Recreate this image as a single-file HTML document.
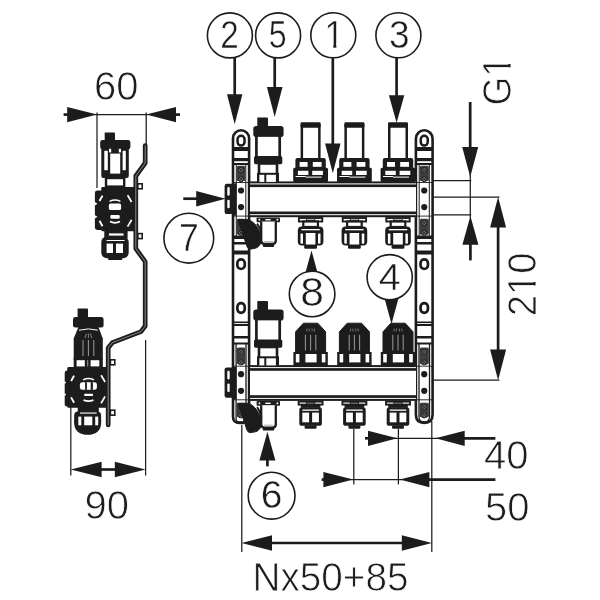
<!DOCTYPE html>
<html lang="en">
<head>
<meta charset="utf-8">
<title>Manifold dimensional drawing</title>
<style>
html,body{margin:0;padding:0;background:#fff;}
body{width:600px;height:600px;overflow:hidden;}
svg{display:block;}
svg{will-change:transform;}
text{font-family:"Liberation Sans",sans-serif;fill:#1d1d1b;stroke:#fff;stroke-width:0.8px;}
</style>
</head>
<body>
<svg width="600" height="600" viewBox="0 0 600 600">
<defs><filter id="soft" x="0" y="0" width="600" height="600" filterUnits="userSpaceOnUse"><feGaussianBlur stdDeviation="0.32"/></filter></defs>
<rect x="0" y="0" width="600" height="600" fill="#ffffff"/>
<g filter="url(#soft)">
<line x1="97" y1="112.4" x2="97" y2="188" stroke="#1d1d1b" stroke-width="1.25" stroke-linecap="butt"/>
<line x1="146.2" y1="112.4" x2="146.2" y2="146" stroke="#1d1d1b" stroke-width="1.25" stroke-linecap="butt"/>
<line x1="95" y1="114.6" x2="148" y2="114.6" stroke="#1d1d1b" stroke-width="1.25" stroke-linecap="butt"/>
<polygon points="97.1,114.6 67.19999999999999,107.0 67.19999999999999,122.19999999999999" fill="#1d1d1b" stroke="none" stroke-width="0" stroke-linejoin="miter"/>
<line x1="63.6" y1="114.6" x2="68" y2="114.6" stroke="#1d1d1b" stroke-width="2.7" stroke-linecap="butt"/>
<polygon points="146.1,114.6 176.0,107.0 176.0,122.19999999999999" fill="#1d1d1b" stroke="none" stroke-width="0" stroke-linejoin="miter"/>
<line x1="175" y1="114.6" x2="180" y2="114.6" stroke="#1d1d1b" stroke-width="2.7" stroke-linecap="butt"/>
<text x="116.3" y="99.7" font-size="40" text-anchor="middle">60</text>
<line x1="70.8" y1="405" x2="70.8" y2="475.5" stroke="#1d1d1b" stroke-width="1.25" stroke-linecap="butt"/>
<line x1="145.6" y1="340" x2="145.6" y2="475.5" stroke="#1d1d1b" stroke-width="1.25" stroke-linecap="butt"/>
<line x1="100" y1="469.5" x2="117" y2="469.5" stroke="#1d1d1b" stroke-width="2.7" stroke-linecap="butt"/>
<polygon points="70.7,469.5 101.6,461.8 101.6,477.2" fill="#1d1d1b" stroke="none" stroke-width="0" stroke-linejoin="miter"/>
<polygon points="145.5,469.5 114.79999999999998,461.8 114.79999999999998,477.2" fill="#1d1d1b" stroke="none" stroke-width="0" stroke-linejoin="miter"/>
<text x="106.8" y="519.1" font-size="40" text-anchor="middle">90</text>
<line x1="433.6" y1="180.6" x2="471.2" y2="180.6" stroke="#1d1d1b" stroke-width="1.25" stroke-linecap="butt"/>
<line x1="433.6" y1="197.2" x2="499.4" y2="197.2" stroke="#1d1d1b" stroke-width="1.25" stroke-linecap="butt"/>
<line x1="433.6" y1="214.8" x2="471.2" y2="214.8" stroke="#1d1d1b" stroke-width="1.25" stroke-linecap="butt"/>
<line x1="470.3" y1="174" x2="470.3" y2="218" stroke="#1d1d1b" stroke-width="1.25" stroke-linecap="butt"/>
<line x1="470.2" y1="102" x2="470.2" y2="149" stroke="#1d1d1b" stroke-width="2.7" stroke-linecap="butt"/>
<polygon points="470.2,176.9 462.2,147.0 478.2,147.0" fill="#1d1d1b" stroke="none" stroke-width="0" stroke-linejoin="miter"/>
<polygon points="470.4,216.0 462.4,244.70000000000002 478.4,244.70000000000002" fill="#1d1d1b" stroke="none" stroke-width="0" stroke-linejoin="miter"/>
<line x1="470.4" y1="243" x2="470.4" y2="260.4" stroke="#1d1d1b" stroke-width="2.7" stroke-linecap="butt"/>
<text x="511" y="105.5" font-size="40" text-anchor="start" transform="rotate(-90 511 105.5)" textLength="49.5" lengthAdjust="spacingAndGlyphs">G1</text>
<g transform="rotate(-90 511 105.5)"><rect x="542.31" y="101.81" width="6.88" height="4.89" fill="#fff"/><rect x="552.47" y="101.81" width="6.69" height="4.89" fill="#fff"/></g>
<line x1="433.6" y1="380.2" x2="499.4" y2="380.2" stroke="#1d1d1b" stroke-width="1.25" stroke-linecap="butt"/>
<line x1="498.1" y1="224" x2="498.1" y2="353" stroke="#1d1d1b" stroke-width="2.7" stroke-linecap="butt"/>
<polygon points="498.1,196.89999999999998 490.1,227.6 506.1,227.6" fill="#1d1d1b" stroke="none" stroke-width="0" stroke-linejoin="miter"/>
<polygon points="498.1,380.3 490.1,349.6 506.1,349.6" fill="#1d1d1b" stroke="none" stroke-width="0" stroke-linejoin="miter"/>
<text x="536" y="316.2" font-size="40" text-anchor="start" transform="rotate(-90 536 316.2)" textLength="63.7" lengthAdjust="spacingAndGlyphs">210</text>
<g transform="rotate(-90 536 316.2)"><rect x="559.76" y="312.51" width="7.08" height="4.89" fill="#fff"/><rect x="570.21" y="312.51" width="6.88" height="4.89" fill="#fff"/></g>
<line x1="353.8" y1="428.8" x2="353.8" y2="484.4" stroke="#1d1d1b" stroke-width="1.25" stroke-linecap="butt"/>
<line x1="398.4" y1="428.8" x2="398.4" y2="484.4" stroke="#1d1d1b" stroke-width="1.25" stroke-linecap="butt"/>
<line x1="431.8" y1="421" x2="431.8" y2="552" stroke="#1d1d1b" stroke-width="1.25" stroke-linecap="butt"/>
<line x1="394" y1="438.3" x2="440" y2="438.3" stroke="#1d1d1b" stroke-width="1.25" stroke-linecap="butt"/>
<polygon points="397.3,438.3 368,430.7 368,445.90000000000003" fill="#1d1d1b" stroke="none" stroke-width="0" stroke-linejoin="miter"/>
<line x1="365" y1="438.3" x2="369" y2="438.3" stroke="#1d1d1b" stroke-width="2.7" stroke-linecap="butt"/>
<polygon points="435.4,438.3 464.7,430.7 464.7,445.90000000000003" fill="#1d1d1b" stroke="none" stroke-width="0" stroke-linejoin="miter"/>
<line x1="463" y1="438.3" x2="495.4" y2="438.3" stroke="#1d1d1b" stroke-width="2.7" stroke-linecap="butt"/>
<line x1="350" y1="479.6" x2="403" y2="479.6" stroke="#1d1d1b" stroke-width="1.25" stroke-linecap="butt"/>
<polygon points="353.3,479.6 323.4,472.0 323.4,487.20000000000005" fill="#1d1d1b" stroke="none" stroke-width="0" stroke-linejoin="miter"/>
<line x1="321.6" y1="479.6" x2="325" y2="479.6" stroke="#1d1d1b" stroke-width="2.7" stroke-linecap="butt"/>
<polygon points="399.7,479.6 429.4,472.0 429.4,487.20000000000005" fill="#1d1d1b" stroke="none" stroke-width="0" stroke-linejoin="miter"/>
<line x1="428" y1="479.6" x2="495.4" y2="479.6" stroke="#1d1d1b" stroke-width="2.7" stroke-linecap="butt"/>
<text x="506.2" y="469.4" font-size="40" text-anchor="middle">40</text>
<text x="507.2" y="520.8" font-size="40" text-anchor="middle">50</text>
<line x1="241.8" y1="425" x2="241.8" y2="552" stroke="#1d1d1b" stroke-width="1.25" stroke-linecap="butt"/>
<line x1="270" y1="543" x2="404" y2="543" stroke="#1d1d1b" stroke-width="2.7" stroke-linecap="butt"/>
<polygon points="241.5,543 272.0,535.2 272.0,550.8" fill="#1d1d1b" stroke="none" stroke-width="0" stroke-linejoin="miter"/>
<polygon points="431.90000000000003,543 401.8,535.2 401.8,550.8" fill="#1d1d1b" stroke="none" stroke-width="0" stroke-linejoin="miter"/>
<text x="330.5" y="590.5" font-size="40" text-anchor="middle" textLength="156" lengthAdjust="spacingAndGlyphs">Nx50+85</text>
<path d="M233.0,138.35000000000002 A8.050000000000008,8.050000000000008 0 0 1 249.1,138.35000000000002 L249.1,416.4 Q249.1,422.9 242.6,422.9 L239.5,422.9 Q233.0,422.9 233.0,416.4 Z" fill="#fff" stroke="#1d1d1b" stroke-width="2.6" stroke-linejoin="round" stroke-linecap="butt"/>
<rect x="237.55" y="135.85" width="7.0" height="9.7" rx="3.5" fill="#fff" stroke="#1d1d1b" stroke-width="2.5"/>
<rect x="237.35000000000002" y="259.4" width="7.4" height="9.6" rx="3.7" fill="#fff" stroke="#1d1d1b" stroke-width="2.7"/>
<rect x="237.35000000000002" y="303.2" width="7.4" height="9.6" rx="3.7" fill="#fff" stroke="#1d1d1b" stroke-width="2.7"/>
<rect x="232.7" y="147.0" width="16.7" height="4.0" fill="#1d1d1b" stroke="none" stroke-width="0" rx="0"/>
<rect x="232.7" y="158.0" width="16.7" height="3.2" fill="#1d1d1b" stroke="none" stroke-width="0" rx="0"/>
<rect x="232.7" y="163.0" width="16.7" height="2.0" fill="#1d1d1b" stroke="none" stroke-width="0" rx="0"/>
<rect x="232.7" y="235.5" width="16.7" height="3.5" fill="#1d1d1b" stroke="none" stroke-width="0" rx="0"/>
<rect x="232.7" y="242.0" width="16.7" height="2.5" fill="#1d1d1b" stroke="none" stroke-width="0" rx="0"/>
<rect x="232.7" y="250.5" width="16.7" height="4.0" fill="#1d1d1b" stroke="none" stroke-width="0" rx="0"/>
<line x1="236.29999999999998" y1="164.3" x2="236.29999999999998" y2="236.3" stroke="#1d1d1b" stroke-width="1.0" stroke-linecap="butt"/>
<line x1="245.8" y1="164.3" x2="245.8" y2="236.3" stroke="#1d1d1b" stroke-width="1.0" stroke-linecap="butt"/>
<rect x="236.7" y="165.70000000000002" width="8.7" height="15.3" fill="#3c3c3a" stroke="none" stroke-width="0" rx="1.6"/>
<circle cx="241.05" cy="170.10000000000002" r="2.6" fill="#6e6e6c" stroke="#1d1d1b" stroke-width="0.9"/>
<line x1="239.35000000000002" y1="168.40000000000003" x2="242.75" y2="171.80000000000004" stroke="#1d1d1b" stroke-width="0.8" stroke-linecap="butt"/>
<line x1="239.35000000000002" y1="171.80000000000004" x2="242.75" y2="168.40000000000003" stroke="#1d1d1b" stroke-width="0.8" stroke-linecap="butt"/>
<circle cx="241.05" cy="179.20000000000002" r="2.6" fill="#6e6e6c" stroke="#1d1d1b" stroke-width="0.9"/>
<line x1="239.35000000000002" y1="177.50000000000003" x2="242.75" y2="180.90000000000003" stroke="#1d1d1b" stroke-width="0.8" stroke-linecap="butt"/>
<line x1="239.35000000000002" y1="180.90000000000003" x2="242.75" y2="177.50000000000003" stroke="#1d1d1b" stroke-width="0.8" stroke-linecap="butt"/>
<rect x="236.7" y="218.8" width="8.7" height="15.9" fill="#3c3c3a" stroke="none" stroke-width="0" rx="1.6"/>
<circle cx="241.05" cy="223.20000000000002" r="2.6" fill="#6e6e6c" stroke="#1d1d1b" stroke-width="0.9"/>
<line x1="239.35000000000002" y1="221.50000000000003" x2="242.75" y2="224.90000000000003" stroke="#1d1d1b" stroke-width="0.8" stroke-linecap="butt"/>
<line x1="239.35000000000002" y1="224.90000000000003" x2="242.75" y2="221.50000000000003" stroke="#1d1d1b" stroke-width="0.8" stroke-linecap="butt"/>
<circle cx="241.05" cy="232.90000000000003" r="2.6" fill="#6e6e6c" stroke="#1d1d1b" stroke-width="0.9"/>
<line x1="239.35000000000002" y1="231.20000000000005" x2="242.75" y2="234.60000000000005" stroke="#1d1d1b" stroke-width="0.8" stroke-linecap="butt"/>
<line x1="239.35000000000002" y1="234.60000000000005" x2="242.75" y2="231.20000000000005" stroke="#1d1d1b" stroke-width="0.8" stroke-linecap="butt"/>
<rect x="232.7" y="321.5" width="16.7" height="1.6" fill="#1d1d1b" stroke="none" stroke-width="0" rx="0"/>
<rect x="232.7" y="324.0" width="16.7" height="2.0" fill="#1d1d1b" stroke="none" stroke-width="0" rx="0"/>
<rect x="232.7" y="336.0" width="16.7" height="2.5" fill="#1d1d1b" stroke="none" stroke-width="0" rx="0"/>
<rect x="232.7" y="342.5" width="16.7" height="2.0" fill="#1d1d1b" stroke="none" stroke-width="0" rx="0"/>
<path d="M236.1,344 L236.1,418.7 Q236.1,422.0 239.4,422.0 L242.7,422.0 Q246.0,422.0 246.0,418.7 L246.0,344" fill="none" stroke="#1d1d1b" stroke-width="1.3" stroke-linejoin="round" stroke-linecap="butt"/>
<rect x="236.7" y="347.5" width="8.7" height="16.7" fill="#3c3c3a" stroke="none" stroke-width="0" rx="1.6"/>
<circle cx="241.05" cy="351.90000000000003" r="2.6" fill="#6e6e6c" stroke="#1d1d1b" stroke-width="0.9"/>
<line x1="239.35000000000002" y1="350.2" x2="242.75" y2="353.6" stroke="#1d1d1b" stroke-width="0.8" stroke-linecap="butt"/>
<line x1="239.35000000000002" y1="353.6" x2="242.75" y2="350.2" stroke="#1d1d1b" stroke-width="0.8" stroke-linecap="butt"/>
<circle cx="241.05" cy="362.40000000000003" r="2.6" fill="#6e6e6c" stroke="#1d1d1b" stroke-width="0.9"/>
<line x1="239.35000000000002" y1="360.7" x2="242.75" y2="364.1" stroke="#1d1d1b" stroke-width="0.8" stroke-linecap="butt"/>
<line x1="239.35000000000002" y1="364.1" x2="242.75" y2="360.7" stroke="#1d1d1b" stroke-width="0.8" stroke-linecap="butt"/>
<rect x="236.7" y="402.8" width="8.7" height="14.4" fill="#3c3c3a" stroke="none" stroke-width="0" rx="1.6"/>
<circle cx="241.05" cy="407.20000000000005" r="2.6" fill="#6e6e6c" stroke="#1d1d1b" stroke-width="0.9"/>
<line x1="239.35000000000002" y1="405.5" x2="242.75" y2="408.90000000000003" stroke="#1d1d1b" stroke-width="0.8" stroke-linecap="butt"/>
<line x1="239.35000000000002" y1="408.90000000000003" x2="242.75" y2="405.5" stroke="#1d1d1b" stroke-width="0.8" stroke-linecap="butt"/>
<circle cx="241.05" cy="415.40000000000003" r="2.6" fill="#6e6e6c" stroke="#1d1d1b" stroke-width="0.9"/>
<line x1="239.35000000000002" y1="413.7" x2="242.75" y2="417.1" stroke="#1d1d1b" stroke-width="0.8" stroke-linecap="butt"/>
<line x1="239.35000000000002" y1="417.1" x2="242.75" y2="413.7" stroke="#1d1d1b" stroke-width="0.8" stroke-linecap="butt"/>
<line x1="233.7" y1="182.5" x2="248.4" y2="182.5" stroke="#1d1d1b" stroke-width="0.9" stroke-linecap="butt"/>
<line x1="233.7" y1="216.10000000000002" x2="248.4" y2="216.10000000000002" stroke="#1d1d1b" stroke-width="0.9" stroke-linecap="butt"/>
<circle cx="241.05" cy="190.5" r="3.1" fill="#1d1d1b" stroke="none" stroke-width="0"/>
<circle cx="241.05" cy="207.10000000000002" r="3.1" fill="#1d1d1b" stroke="none" stroke-width="0"/>
<line x1="233.7" y1="366.2" x2="248.4" y2="366.2" stroke="#1d1d1b" stroke-width="0.9" stroke-linecap="butt"/>
<line x1="233.7" y1="399.8" x2="248.4" y2="399.8" stroke="#1d1d1b" stroke-width="0.9" stroke-linecap="butt"/>
<circle cx="241.05" cy="374.2" r="3.1" fill="#1d1d1b" stroke="none" stroke-width="0"/>
<circle cx="241.05" cy="390.8" r="3.1" fill="#1d1d1b" stroke="none" stroke-width="0"/>
<path d="M415.90000000000003,138.64999999999998 A8.349999999999977,8.349999999999977 0 0 1 432.59999999999997,138.64999999999998 L432.59999999999997,414.5 Q432.59999999999997,422.9 424.2,422.9 L424.3,422.9 Q415.90000000000003,422.9 415.90000000000003,414.5 Z" fill="#fff" stroke="#1d1d1b" stroke-width="2.6" stroke-linejoin="round" stroke-linecap="butt"/>
<rect x="420.75" y="135.85" width="7.0" height="9.7" rx="3.5" fill="#fff" stroke="#1d1d1b" stroke-width="2.5"/>
<rect x="420.55" y="259.4" width="7.4" height="9.6" rx="3.7" fill="#fff" stroke="#1d1d1b" stroke-width="2.7"/>
<rect x="420.55" y="303.2" width="7.4" height="9.6" rx="3.7" fill="#fff" stroke="#1d1d1b" stroke-width="2.7"/>
<rect x="415.6" y="147.0" width="17.3" height="4.0" fill="#1d1d1b" stroke="none" stroke-width="0" rx="0"/>
<rect x="415.6" y="158.0" width="17.3" height="3.2" fill="#1d1d1b" stroke="none" stroke-width="0" rx="0"/>
<rect x="415.6" y="163.0" width="17.3" height="2.0" fill="#1d1d1b" stroke="none" stroke-width="0" rx="0"/>
<rect x="415.6" y="235.5" width="17.3" height="3.5" fill="#1d1d1b" stroke="none" stroke-width="0" rx="0"/>
<rect x="415.6" y="242.0" width="17.3" height="2.5" fill="#1d1d1b" stroke="none" stroke-width="0" rx="0"/>
<rect x="415.6" y="250.5" width="17.3" height="4.0" fill="#1d1d1b" stroke="none" stroke-width="0" rx="0"/>
<line x1="419.20000000000005" y1="164.3" x2="419.20000000000005" y2="236.3" stroke="#1d1d1b" stroke-width="1.0" stroke-linecap="butt"/>
<line x1="429.29999999999995" y1="164.3" x2="429.29999999999995" y2="236.3" stroke="#1d1d1b" stroke-width="1.0" stroke-linecap="butt"/>
<rect x="419.6" y="165.70000000000002" width="9.3" height="15.3" fill="#3c3c3a" stroke="none" stroke-width="0" rx="1.6"/>
<circle cx="424.25" cy="170.10000000000002" r="2.6" fill="#6e6e6c" stroke="#1d1d1b" stroke-width="0.9"/>
<line x1="422.55" y1="168.40000000000003" x2="425.95" y2="171.80000000000004" stroke="#1d1d1b" stroke-width="0.8" stroke-linecap="butt"/>
<line x1="422.55" y1="171.80000000000004" x2="425.95" y2="168.40000000000003" stroke="#1d1d1b" stroke-width="0.8" stroke-linecap="butt"/>
<circle cx="424.25" cy="179.20000000000002" r="2.6" fill="#6e6e6c" stroke="#1d1d1b" stroke-width="0.9"/>
<line x1="422.55" y1="177.50000000000003" x2="425.95" y2="180.90000000000003" stroke="#1d1d1b" stroke-width="0.8" stroke-linecap="butt"/>
<line x1="422.55" y1="180.90000000000003" x2="425.95" y2="177.50000000000003" stroke="#1d1d1b" stroke-width="0.8" stroke-linecap="butt"/>
<rect x="419.6" y="218.8" width="9.3" height="15.9" fill="#3c3c3a" stroke="none" stroke-width="0" rx="1.6"/>
<circle cx="424.25" cy="223.20000000000002" r="2.6" fill="#6e6e6c" stroke="#1d1d1b" stroke-width="0.9"/>
<line x1="422.55" y1="221.50000000000003" x2="425.95" y2="224.90000000000003" stroke="#1d1d1b" stroke-width="0.8" stroke-linecap="butt"/>
<line x1="422.55" y1="224.90000000000003" x2="425.95" y2="221.50000000000003" stroke="#1d1d1b" stroke-width="0.8" stroke-linecap="butt"/>
<circle cx="424.25" cy="232.90000000000003" r="2.6" fill="#6e6e6c" stroke="#1d1d1b" stroke-width="0.9"/>
<line x1="422.55" y1="231.20000000000005" x2="425.95" y2="234.60000000000005" stroke="#1d1d1b" stroke-width="0.8" stroke-linecap="butt"/>
<line x1="422.55" y1="234.60000000000005" x2="425.95" y2="231.20000000000005" stroke="#1d1d1b" stroke-width="0.8" stroke-linecap="butt"/>
<rect x="415.6" y="321.5" width="17.3" height="1.6" fill="#1d1d1b" stroke="none" stroke-width="0" rx="0"/>
<rect x="415.6" y="324.0" width="17.3" height="2.0" fill="#1d1d1b" stroke="none" stroke-width="0" rx="0"/>
<rect x="415.6" y="336.0" width="17.3" height="2.5" fill="#1d1d1b" stroke="none" stroke-width="0" rx="0"/>
<rect x="415.6" y="342.5" width="17.3" height="2.0" fill="#1d1d1b" stroke="none" stroke-width="0" rx="0"/>
<path d="M419.0,344 L419.0,416.8 Q419.0,422.0 424.2,422.0 L424.3,422.0 Q429.5,422.0 429.5,416.8 L429.5,344" fill="none" stroke="#1d1d1b" stroke-width="1.3" stroke-linejoin="round" stroke-linecap="butt"/>
<rect x="419.6" y="347.5" width="9.3" height="16.7" fill="#3c3c3a" stroke="none" stroke-width="0" rx="1.6"/>
<circle cx="424.25" cy="351.90000000000003" r="2.6" fill="#6e6e6c" stroke="#1d1d1b" stroke-width="0.9"/>
<line x1="422.55" y1="350.2" x2="425.95" y2="353.6" stroke="#1d1d1b" stroke-width="0.8" stroke-linecap="butt"/>
<line x1="422.55" y1="353.6" x2="425.95" y2="350.2" stroke="#1d1d1b" stroke-width="0.8" stroke-linecap="butt"/>
<circle cx="424.25" cy="362.40000000000003" r="2.6" fill="#6e6e6c" stroke="#1d1d1b" stroke-width="0.9"/>
<line x1="422.55" y1="360.7" x2="425.95" y2="364.1" stroke="#1d1d1b" stroke-width="0.8" stroke-linecap="butt"/>
<line x1="422.55" y1="364.1" x2="425.95" y2="360.7" stroke="#1d1d1b" stroke-width="0.8" stroke-linecap="butt"/>
<rect x="419.6" y="402.8" width="9.3" height="14.4" fill="#3c3c3a" stroke="none" stroke-width="0" rx="1.6"/>
<circle cx="424.25" cy="407.20000000000005" r="2.6" fill="#6e6e6c" stroke="#1d1d1b" stroke-width="0.9"/>
<line x1="422.55" y1="405.5" x2="425.95" y2="408.90000000000003" stroke="#1d1d1b" stroke-width="0.8" stroke-linecap="butt"/>
<line x1="422.55" y1="408.90000000000003" x2="425.95" y2="405.5" stroke="#1d1d1b" stroke-width="0.8" stroke-linecap="butt"/>
<circle cx="424.25" cy="415.40000000000003" r="2.6" fill="#6e6e6c" stroke="#1d1d1b" stroke-width="0.9"/>
<line x1="422.55" y1="413.7" x2="425.95" y2="417.1" stroke="#1d1d1b" stroke-width="0.8" stroke-linecap="butt"/>
<line x1="422.55" y1="417.1" x2="425.95" y2="413.7" stroke="#1d1d1b" stroke-width="0.8" stroke-linecap="butt"/>
<line x1="416.6" y1="182.5" x2="431.9" y2="182.5" stroke="#1d1d1b" stroke-width="0.9" stroke-linecap="butt"/>
<line x1="416.6" y1="216.10000000000002" x2="431.9" y2="216.10000000000002" stroke="#1d1d1b" stroke-width="0.9" stroke-linecap="butt"/>
<circle cx="424.25" cy="190.5" r="3.1" fill="#1d1d1b" stroke="none" stroke-width="0"/>
<circle cx="424.25" cy="207.10000000000002" r="3.1" fill="#1d1d1b" stroke="none" stroke-width="0"/>
<line x1="416.6" y1="366.2" x2="431.9" y2="366.2" stroke="#1d1d1b" stroke-width="0.9" stroke-linecap="butt"/>
<line x1="416.6" y1="399.8" x2="431.9" y2="399.8" stroke="#1d1d1b" stroke-width="0.9" stroke-linecap="butt"/>
<circle cx="424.25" cy="374.2" r="3.1" fill="#1d1d1b" stroke="none" stroke-width="0"/>
<circle cx="424.25" cy="390.8" r="3.1" fill="#1d1d1b" stroke="none" stroke-width="0"/>
<rect x="250" y="181.5" width="166" height="35.6" fill="#fff" stroke="none" stroke-width="0" rx="0"/>
<rect x="250" y="181.4" width="166" height="2.0" fill="#1d1d1b" stroke="none" stroke-width="0" rx="0"/>
<rect x="250" y="184.4" width="166" height="2.7" fill="#1d1d1b" stroke="none" stroke-width="0" rx="0"/>
<rect x="250" y="211.5" width="166" height="2.7" fill="#1d1d1b" stroke="none" stroke-width="0" rx="0"/>
<rect x="250" y="215.20000000000002" width="166" height="2.0" fill="#1d1d1b" stroke="none" stroke-width="0" rx="0"/>
<rect x="250" y="365.2" width="166" height="35.6" fill="#fff" stroke="none" stroke-width="0" rx="0"/>
<rect x="250" y="365.1" width="166" height="2.0" fill="#1d1d1b" stroke="none" stroke-width="0" rx="0"/>
<rect x="250" y="368.1" width="166" height="2.7" fill="#1d1d1b" stroke="none" stroke-width="0" rx="0"/>
<rect x="250" y="395.2" width="166" height="2.7" fill="#1d1d1b" stroke="none" stroke-width="0" rx="0"/>
<rect x="250" y="398.9" width="166" height="2.0" fill="#1d1d1b" stroke="none" stroke-width="0" rx="0"/>
<rect x="224.6" y="183.70000000000002" width="9.4" height="30.4" fill="#1d1d1b" stroke="none" stroke-width="0" rx="2.2"/>
<rect x="227.3" y="187.0" width="2.4" height="8.7" fill="#fff" stroke="none" stroke-width="0" rx="1.1"/>
<rect x="227.3" y="199.70000000000002" width="2.4" height="8.6" fill="#fff" stroke="none" stroke-width="0" rx="1.1"/>
<rect x="232.4" y="183.3" width="4.0" height="32.4" fill="#1d1d1b" stroke="none" stroke-width="0" rx="0"/>
<rect x="224.6" y="367.4" width="9.4" height="30.4" fill="#1d1d1b" stroke="none" stroke-width="0" rx="2.2"/>
<rect x="227.3" y="370.7" width="2.4" height="8.7" fill="#fff" stroke="none" stroke-width="0" rx="1.1"/>
<rect x="227.3" y="383.4" width="2.4" height="8.6" fill="#fff" stroke="none" stroke-width="0" rx="1.1"/>
<rect x="232.4" y="367" width="4.0" height="32.4" fill="#1d1d1b" stroke="none" stroke-width="0" rx="0"/>
<rect x="257.3" y="117.5" width="10.7" height="10.0" fill="#1d1d1b" stroke="none" stroke-width="0" rx="0.8"/>
<rect x="253.29999999999998" y="125.9" width="30.3" height="11.1" fill="#1d1d1b" stroke="none" stroke-width="0" rx="2.8"/>
<rect x="256.4" y="135.5" width="23.3" height="24.0" fill="#fff" stroke="#1d1d1b" stroke-width="2.7" rx="0"/>
<rect x="254.0" y="156.1" width="28.3" height="8.1" fill="#1d1d1b" stroke="none" stroke-width="0" rx="1.6"/>
<rect x="259.0" y="163.5" width="18.0" height="12.0" fill="#fff" stroke="#1d1d1b" stroke-width="2.6" rx="0"/>
<rect x="257.0" y="172.8" width="22.0" height="9.1" fill="#1d1d1b" stroke="none" stroke-width="0" rx="0"/>
<rect x="259.4" y="174.8" width="4.9" height="7.1" fill="#fff" stroke="none" stroke-width="0" rx="0"/>
<rect x="266.3" y="174.8" width="9.6" height="7.1" fill="#fff" stroke="none" stroke-width="0" rx="0"/>
<rect x="257.3" y="301" width="10.7" height="10" fill="#1d1d1b" stroke="none" stroke-width="0" rx="0.8"/>
<rect x="253.29999999999998" y="309.4" width="30.3" height="11.1" fill="#1d1d1b" stroke="none" stroke-width="0" rx="2.8"/>
<rect x="256.4" y="319" width="23.3" height="24" fill="#fff" stroke="#1d1d1b" stroke-width="2.7" rx="0"/>
<rect x="254.0" y="339.6" width="28.3" height="8.1" fill="#1d1d1b" stroke="none" stroke-width="0" rx="1.6"/>
<rect x="259.0" y="347" width="18.0" height="12" fill="#fff" stroke="#1d1d1b" stroke-width="2.6" rx="0"/>
<rect x="257.0" y="356.3" width="22.0" height="9.1" fill="#1d1d1b" stroke="none" stroke-width="0" rx="0"/>
<rect x="259.4" y="358.3" width="4.9" height="7.1" fill="#fff" stroke="none" stroke-width="0" rx="0"/>
<rect x="266.3" y="358.3" width="9.6" height="7.1" fill="#fff" stroke="none" stroke-width="0" rx="0"/>
<rect x="300.6" y="122.2" width="20.0" height="38.8" fill="#fff" stroke="none" stroke-width="0" rx="0"/>
<rect x="300.6" y="122.2" width="20.0" height="5.6" fill="#1d1d1b" stroke="none" stroke-width="0" rx="1.2"/>
<rect x="300.6" y="124" width="2.5" height="37" fill="#1d1d1b" stroke="none" stroke-width="0" rx="0"/>
<rect x="318.1" y="124" width="2.5" height="37" fill="#1d1d1b" stroke="none" stroke-width="0" rx="0"/>
<rect x="295.40000000000003" y="158" width="30.4" height="12" fill="#1d1d1b" stroke="none" stroke-width="0" rx="2"/>
<rect x="293.20000000000005" y="167.8" width="34.8" height="14.2" fill="#1d1d1b" stroke="none" stroke-width="0" rx="1.5"/>
<rect x="299.6" y="162" width="8.0" height="4.8" fill="#fff" stroke="none" stroke-width="0" rx="0"/>
<rect x="312.8" y="162" width="8.8" height="4.8" fill="#fff" stroke="none" stroke-width="0" rx="0"/>
<rect x="297.90000000000003" y="170.8" width="10.5" height="4.2" fill="#fff" stroke="none" stroke-width="0" rx="0"/>
<rect x="312.20000000000005" y="170.8" width="10.7" height="4.2" fill="#fff" stroke="none" stroke-width="0" rx="0"/>
<rect x="295.6" y="176" width="10.0" height="1" fill="#fff" stroke="none" stroke-width="0" rx="0"/>
<rect x="305.6" y="176.6" width="16.0" height="1.0" fill="#fff" stroke="none" stroke-width="0" rx="0"/>
<rect x="298.90000000000003" y="218.0" width="23.4" height="3.5" fill="#fff" stroke="#1d1d1b" stroke-width="1.9" rx="0"/>
<rect x="306.40000000000003" y="218.89999999999998" width="8.4" height="1.7" fill="#fff" stroke="#1d1d1b" stroke-width="0.9" rx="0"/>
<rect x="303.3" y="221.5" width="14.6" height="5.5" fill="#fff" stroke="#1d1d1b" stroke-width="2.2" rx="0"/>
<rect x="297.8" y="226.6" width="25.6" height="19.0" fill="#1d1d1b" stroke="none" stroke-width="0" rx="4"/>
<rect x="301.40000000000003" y="229.0" width="18.4" height="1.3" fill="#fff" stroke="none" stroke-width="0" rx="0"/>
<rect x="300.5" y="233.39999999999998" width="2.5" height="10.4" fill="#fff" stroke="none" stroke-width="0" rx="0.8"/>
<rect x="305.8" y="233.0" width="9.6" height="11.7" fill="#fff" stroke="none" stroke-width="0" rx="0"/>
<rect x="318.0" y="233.39999999999998" width="2.5" height="10.4" fill="#fff" stroke="none" stroke-width="0" rx="0.8"/>
<rect x="304.20000000000005" y="244.79999999999998" width="12.8" height="3.9" fill="#1d1d1b" stroke="none" stroke-width="0" rx="1.2"/>
<polygon points="303.40000000000003,323.20000000000005 317.8,323.20000000000005 325.6,331.8 325.6,352.6 295.6,352.6 295.6,331.8" fill="#1d1d1b" stroke="#1d1d1b" stroke-width="1" stroke-linejoin="round"/>
<line x1="305.40000000000003" y1="334.8" x2="305.40000000000003" y2="350.40000000000003" stroke="#9a9a98" stroke-width="1.0" stroke-linecap="butt"/>
<line x1="310.6" y1="334.8" x2="310.6" y2="350.40000000000003" stroke="#9a9a98" stroke-width="1.0" stroke-linecap="butt"/>
<line x1="315.8" y1="334.8" x2="315.8" y2="350.40000000000003" stroke="#9a9a98" stroke-width="1.0" stroke-linecap="butt"/>
<line x1="307.0" y1="328.6" x2="306.56800000000004" y2="331.40000000000003" stroke="#8a8a88" stroke-width="0.8" stroke-linecap="butt"/>
<line x1="309.20000000000005" y1="328.6" x2="309.03200000000004" y2="331.40000000000003" stroke="#8a8a88" stroke-width="0.8" stroke-linecap="butt"/>
<line x1="312.0" y1="328.6" x2="312.168" y2="331.40000000000003" stroke="#8a8a88" stroke-width="0.8" stroke-linecap="butt"/>
<line x1="314.20000000000005" y1="328.6" x2="314.632" y2="331.40000000000003" stroke="#8a8a88" stroke-width="0.8" stroke-linecap="butt"/>
<rect x="293.40000000000003" y="352.0" width="34.4" height="14.6" fill="#1d1d1b" stroke="none" stroke-width="0" rx="0"/>
<rect x="295.8" y="354.0" width="3.6" height="8.4" fill="#fff" stroke="none" stroke-width="0" rx="0"/>
<rect x="305.40000000000003" y="354.0" width="11.2" height="8.4" fill="#fff" stroke="none" stroke-width="0" rx="0"/>
<rect x="321.8" y="354.0" width="3.6" height="8.4" fill="#fff" stroke="none" stroke-width="0" rx="0"/>
<rect x="298.6" y="401.6" width="24.0" height="3.0" fill="#fff" stroke="#1d1d1b" stroke-width="1.9" rx="0"/>
<rect x="306.40000000000003" y="402.40000000000003" width="8.4" height="1.4" fill="#fff" stroke="#1d1d1b" stroke-width="0.9" rx="0"/>
<rect x="300.8" y="404.6" width="19.6" height="3.2" fill="#1d1d1b" stroke="none" stroke-width="0" rx="0"/>
<rect x="299.3" y="407.3" width="22.6" height="18.5" fill="#1d1d1b" stroke="none" stroke-width="0" rx="2.6"/>
<rect x="302.3" y="409.5" width="16.6" height="1.3" fill="#fff" stroke="none" stroke-width="0" rx="0"/>
<rect x="302.3" y="412.6" width="6.8" height="9.7" fill="#fff" stroke="none" stroke-width="0" rx="0"/>
<rect x="312.1" y="412.6" width="6.8" height="9.7" fill="#fff" stroke="none" stroke-width="0" rx="0"/>
<rect x="304.6" y="425.2" width="12.0" height="3.6" fill="#1d1d1b" stroke="none" stroke-width="0" rx="1.2"/>
<rect x="344.4" y="122.2" width="20.0" height="38.8" fill="#fff" stroke="none" stroke-width="0" rx="0"/>
<rect x="344.4" y="122.2" width="20.0" height="5.6" fill="#1d1d1b" stroke="none" stroke-width="0" rx="1.2"/>
<rect x="344.4" y="124" width="2.5" height="37" fill="#1d1d1b" stroke="none" stroke-width="0" rx="0"/>
<rect x="361.9" y="124" width="2.5" height="37" fill="#1d1d1b" stroke="none" stroke-width="0" rx="0"/>
<rect x="339.2" y="158" width="30.4" height="12" fill="#1d1d1b" stroke="none" stroke-width="0" rx="2"/>
<rect x="337.0" y="167.8" width="34.8" height="14.2" fill="#1d1d1b" stroke="none" stroke-width="0" rx="1.5"/>
<rect x="343.4" y="162" width="8.0" height="4.8" fill="#fff" stroke="none" stroke-width="0" rx="0"/>
<rect x="356.59999999999997" y="162" width="8.8" height="4.8" fill="#fff" stroke="none" stroke-width="0" rx="0"/>
<rect x="341.7" y="170.8" width="10.5" height="4.2" fill="#fff" stroke="none" stroke-width="0" rx="0"/>
<rect x="356.0" y="170.8" width="10.7" height="4.2" fill="#fff" stroke="none" stroke-width="0" rx="0"/>
<rect x="339.4" y="176" width="10.0" height="1" fill="#fff" stroke="none" stroke-width="0" rx="0"/>
<rect x="349.4" y="176.6" width="16.0" height="1.0" fill="#fff" stroke="none" stroke-width="0" rx="0"/>
<rect x="342.7" y="218.0" width="23.4" height="3.5" fill="#fff" stroke="#1d1d1b" stroke-width="1.9" rx="0"/>
<rect x="350.2" y="218.89999999999998" width="8.4" height="1.7" fill="#fff" stroke="#1d1d1b" stroke-width="0.9" rx="0"/>
<rect x="347.09999999999997" y="221.5" width="14.6" height="5.5" fill="#fff" stroke="#1d1d1b" stroke-width="2.2" rx="0"/>
<rect x="341.59999999999997" y="226.6" width="25.6" height="19.0" fill="#1d1d1b" stroke="none" stroke-width="0" rx="4"/>
<rect x="345.2" y="229.0" width="18.4" height="1.3" fill="#fff" stroke="none" stroke-width="0" rx="0"/>
<rect x="344.29999999999995" y="233.39999999999998" width="2.5" height="10.4" fill="#fff" stroke="none" stroke-width="0" rx="0.8"/>
<rect x="349.59999999999997" y="233.0" width="9.6" height="11.7" fill="#fff" stroke="none" stroke-width="0" rx="0"/>
<rect x="361.79999999999995" y="233.39999999999998" width="2.5" height="10.4" fill="#fff" stroke="none" stroke-width="0" rx="0.8"/>
<rect x="348.0" y="244.79999999999998" width="12.8" height="3.9" fill="#1d1d1b" stroke="none" stroke-width="0" rx="1.2"/>
<polygon points="347.2,323.20000000000005 361.59999999999997,323.20000000000005 369.4,331.8 369.4,352.6 339.4,352.6 339.4,331.8" fill="#1d1d1b" stroke="#1d1d1b" stroke-width="1" stroke-linejoin="round"/>
<line x1="349.2" y1="334.8" x2="349.2" y2="350.40000000000003" stroke="#9a9a98" stroke-width="1.0" stroke-linecap="butt"/>
<line x1="354.4" y1="334.8" x2="354.4" y2="350.40000000000003" stroke="#9a9a98" stroke-width="1.0" stroke-linecap="butt"/>
<line x1="359.59999999999997" y1="334.8" x2="359.59999999999997" y2="350.40000000000003" stroke="#9a9a98" stroke-width="1.0" stroke-linecap="butt"/>
<line x1="350.79999999999995" y1="328.6" x2="350.368" y2="331.40000000000003" stroke="#8a8a88" stroke-width="0.8" stroke-linecap="butt"/>
<line x1="353.0" y1="328.6" x2="352.832" y2="331.40000000000003" stroke="#8a8a88" stroke-width="0.8" stroke-linecap="butt"/>
<line x1="355.79999999999995" y1="328.6" x2="355.96799999999996" y2="331.40000000000003" stroke="#8a8a88" stroke-width="0.8" stroke-linecap="butt"/>
<line x1="358.0" y1="328.6" x2="358.43199999999996" y2="331.40000000000003" stroke="#8a8a88" stroke-width="0.8" stroke-linecap="butt"/>
<rect x="337.2" y="352.0" width="34.4" height="14.6" fill="#1d1d1b" stroke="none" stroke-width="0" rx="0"/>
<rect x="339.59999999999997" y="354.0" width="3.6" height="8.4" fill="#fff" stroke="none" stroke-width="0" rx="0"/>
<rect x="349.2" y="354.0" width="11.2" height="8.4" fill="#fff" stroke="none" stroke-width="0" rx="0"/>
<rect x="365.59999999999997" y="354.0" width="3.6" height="8.4" fill="#fff" stroke="none" stroke-width="0" rx="0"/>
<rect x="342.4" y="401.6" width="24.0" height="3.0" fill="#fff" stroke="#1d1d1b" stroke-width="1.9" rx="0"/>
<rect x="350.2" y="402.40000000000003" width="8.4" height="1.4" fill="#fff" stroke="#1d1d1b" stroke-width="0.9" rx="0"/>
<rect x="344.59999999999997" y="404.6" width="19.6" height="3.2" fill="#1d1d1b" stroke="none" stroke-width="0" rx="0"/>
<rect x="343.09999999999997" y="407.3" width="22.6" height="18.5" fill="#1d1d1b" stroke="none" stroke-width="0" rx="2.6"/>
<rect x="346.09999999999997" y="409.5" width="16.6" height="1.3" fill="#fff" stroke="none" stroke-width="0" rx="0"/>
<rect x="346.09999999999997" y="412.6" width="6.8" height="9.7" fill="#fff" stroke="none" stroke-width="0" rx="0"/>
<rect x="355.9" y="412.6" width="6.8" height="9.7" fill="#fff" stroke="none" stroke-width="0" rx="0"/>
<rect x="348.4" y="425.2" width="12.0" height="3.6" fill="#1d1d1b" stroke="none" stroke-width="0" rx="1.2"/>
<rect x="388" y="122.2" width="20" height="38.8" fill="#fff" stroke="none" stroke-width="0" rx="0"/>
<rect x="388" y="122.2" width="20" height="5.6" fill="#1d1d1b" stroke="none" stroke-width="0" rx="1.2"/>
<rect x="388" y="124" width="2.5" height="37" fill="#1d1d1b" stroke="none" stroke-width="0" rx="0"/>
<rect x="405.5" y="124" width="2.5" height="37" fill="#1d1d1b" stroke="none" stroke-width="0" rx="0"/>
<rect x="382.8" y="158" width="30.4" height="12" fill="#1d1d1b" stroke="none" stroke-width="0" rx="2"/>
<rect x="380.6" y="167.8" width="34.8" height="14.2" fill="#1d1d1b" stroke="none" stroke-width="0" rx="1.5"/>
<rect x="387" y="162" width="8" height="4.8" fill="#fff" stroke="none" stroke-width="0" rx="0"/>
<rect x="400.2" y="162" width="8.8" height="4.8" fill="#fff" stroke="none" stroke-width="0" rx="0"/>
<rect x="385.3" y="170.8" width="10.5" height="4.2" fill="#fff" stroke="none" stroke-width="0" rx="0"/>
<rect x="399.6" y="170.8" width="10.7" height="4.2" fill="#fff" stroke="none" stroke-width="0" rx="0"/>
<rect x="383" y="176" width="10" height="1" fill="#fff" stroke="none" stroke-width="0" rx="0"/>
<rect x="393" y="176.6" width="16" height="1.0" fill="#fff" stroke="none" stroke-width="0" rx="0"/>
<rect x="386.3" y="218.0" width="23.4" height="3.5" fill="#fff" stroke="#1d1d1b" stroke-width="1.9" rx="0"/>
<rect x="393.8" y="218.89999999999998" width="8.4" height="1.7" fill="#fff" stroke="#1d1d1b" stroke-width="0.9" rx="0"/>
<rect x="390.7" y="221.5" width="14.6" height="5.5" fill="#fff" stroke="#1d1d1b" stroke-width="2.2" rx="0"/>
<rect x="385.2" y="226.6" width="25.6" height="19.0" fill="#1d1d1b" stroke="none" stroke-width="0" rx="4"/>
<rect x="388.8" y="229.0" width="18.4" height="1.3" fill="#fff" stroke="none" stroke-width="0" rx="0"/>
<rect x="387.9" y="233.39999999999998" width="2.5" height="10.4" fill="#fff" stroke="none" stroke-width="0" rx="0.8"/>
<rect x="393.2" y="233.0" width="9.6" height="11.7" fill="#fff" stroke="none" stroke-width="0" rx="0"/>
<rect x="405.4" y="233.39999999999998" width="2.5" height="10.4" fill="#fff" stroke="none" stroke-width="0" rx="0.8"/>
<rect x="391.6" y="244.79999999999998" width="12.8" height="3.9" fill="#1d1d1b" stroke="none" stroke-width="0" rx="1.2"/>
<polygon points="390.8,323.20000000000005 405.2,323.20000000000005 413,331.8 413,352.6 383,352.6 383,331.8" fill="#1d1d1b" stroke="#1d1d1b" stroke-width="1" stroke-linejoin="round"/>
<line x1="392.8" y1="334.8" x2="392.8" y2="350.40000000000003" stroke="#9a9a98" stroke-width="1.0" stroke-linecap="butt"/>
<line x1="398" y1="334.8" x2="398" y2="350.40000000000003" stroke="#9a9a98" stroke-width="1.0" stroke-linecap="butt"/>
<line x1="403.2" y1="334.8" x2="403.2" y2="350.40000000000003" stroke="#9a9a98" stroke-width="1.0" stroke-linecap="butt"/>
<line x1="394.4" y1="328.6" x2="393.968" y2="331.40000000000003" stroke="#8a8a88" stroke-width="0.8" stroke-linecap="butt"/>
<line x1="396.6" y1="328.6" x2="396.432" y2="331.40000000000003" stroke="#8a8a88" stroke-width="0.8" stroke-linecap="butt"/>
<line x1="399.4" y1="328.6" x2="399.568" y2="331.40000000000003" stroke="#8a8a88" stroke-width="0.8" stroke-linecap="butt"/>
<line x1="401.6" y1="328.6" x2="402.032" y2="331.40000000000003" stroke="#8a8a88" stroke-width="0.8" stroke-linecap="butt"/>
<rect x="380.8" y="352.0" width="34.4" height="14.6" fill="#1d1d1b" stroke="none" stroke-width="0" rx="0"/>
<rect x="383.2" y="354.0" width="3.6" height="8.4" fill="#fff" stroke="none" stroke-width="0" rx="0"/>
<rect x="392.8" y="354.0" width="11.2" height="8.4" fill="#fff" stroke="none" stroke-width="0" rx="0"/>
<rect x="409.2" y="354.0" width="3.6" height="8.4" fill="#fff" stroke="none" stroke-width="0" rx="0"/>
<rect x="386" y="401.6" width="24" height="3.0" fill="#fff" stroke="#1d1d1b" stroke-width="1.9" rx="0"/>
<rect x="393.8" y="402.40000000000003" width="8.4" height="1.4" fill="#fff" stroke="#1d1d1b" stroke-width="0.9" rx="0"/>
<rect x="388.2" y="404.6" width="19.6" height="3.2" fill="#1d1d1b" stroke="none" stroke-width="0" rx="0"/>
<rect x="386.7" y="407.3" width="22.6" height="18.5" fill="#1d1d1b" stroke="none" stroke-width="0" rx="2.6"/>
<rect x="389.7" y="409.5" width="16.6" height="1.3" fill="#fff" stroke="none" stroke-width="0" rx="0"/>
<rect x="389.7" y="412.6" width="6.8" height="9.7" fill="#fff" stroke="none" stroke-width="0" rx="0"/>
<rect x="399.5" y="412.6" width="6.8" height="9.7" fill="#fff" stroke="none" stroke-width="0" rx="0"/>
<rect x="392" y="425.2" width="12" height="3.6" fill="#1d1d1b" stroke="none" stroke-width="0" rx="1.2"/>
<rect x="256.6" y="217.39999999999998" width="23.4" height="4.8" fill="#1d1d1b" stroke="none" stroke-width="0" rx="0.8"/>
<rect x="265.40000000000003" y="219.0" width="5.2" height="1.4" fill="#fff" stroke="none" stroke-width="0" rx="0"/>
<rect x="258.6" y="218.79999999999998" width="1.6" height="1.8" fill="#fff" stroke="none" stroke-width="0" rx="0"/>
<rect x="276.6" y="218.79999999999998" width="1.6" height="1.8" fill="#fff" stroke="none" stroke-width="0" rx="0"/>
<path d="M261.20000000000005,221.6 L261.20000000000005,240.6 Q261.20000000000005,244.0 264.8,244.0 L272.20000000000005,244.0 Q275.8,244.0 275.8,240.6 L275.8,221.6" fill="#fff" stroke="#1d1d1b" stroke-width="2.3" stroke-linejoin="round" stroke-linecap="butt"/>
<rect x="262.8" y="243.6" width="11.4" height="3.4" fill="#1d1d1b" stroke="none" stroke-width="0" rx="1.2"/>
<line x1="264.0" y1="241.6" x2="273.0" y2="241.6" stroke="#999" stroke-width="0.8" stroke-linecap="butt"/>
<path d="M257.09999999999997,223.6 Q264.09999999999997,233.2 259.3,243.2" fill="none" stroke="#1d1d1b" stroke-width="2" stroke-linejoin="round" stroke-linecap="butt"/>
<path d="M238.1,219.8 L248.3,219.6 C254.2,221.6 259.9,228.8 261.3,237.8 C261.9,243.0 259.5,246.8 256.0,248.0 L251.3,249.0 C248.8,249.5 247.4,248.0 246.6,245.4 Z" fill="#1d1d1b" stroke="#1d1d1b" stroke-width="1" stroke-linejoin="round" stroke-linecap="butt"/>
<rect x="256.6" y="401.0" width="23.4" height="4.8" fill="#1d1d1b" stroke="none" stroke-width="0" rx="0.8"/>
<rect x="265.40000000000003" y="402.6" width="5.2" height="1.4" fill="#fff" stroke="none" stroke-width="0" rx="0"/>
<rect x="258.6" y="402.40000000000003" width="1.6" height="1.8" fill="#fff" stroke="none" stroke-width="0" rx="0"/>
<rect x="276.6" y="402.40000000000003" width="1.6" height="1.8" fill="#fff" stroke="none" stroke-width="0" rx="0"/>
<path d="M261.20000000000005,405.2 L261.20000000000005,424.2 Q261.20000000000005,427.6 264.8,427.6 L272.20000000000005,427.6 Q275.8,427.6 275.8,424.2 L275.8,405.2" fill="#fff" stroke="#1d1d1b" stroke-width="2.3" stroke-linejoin="round" stroke-linecap="butt"/>
<rect x="262.8" y="427.2" width="11.4" height="3.4" fill="#1d1d1b" stroke="none" stroke-width="0" rx="1.2"/>
<line x1="264.0" y1="425.2" x2="273.0" y2="425.2" stroke="#999" stroke-width="0.8" stroke-linecap="butt"/>
<path d="M257.09999999999997,407.2 Q264.09999999999997,416.8 259.3,426.8" fill="none" stroke="#1d1d1b" stroke-width="2" stroke-linejoin="round" stroke-linecap="butt"/>
<path d="M238.1,403.4 L248.3,403.2 C254.2,405.2 259.9,412.4 261.3,421.4 C261.9,426.6 259.5,430.4 256.0,431.6 L251.3,432.6 C248.8,433.1 247.4,431.6 246.6,429.0 Z" fill="#1d1d1b" stroke="#1d1d1b" stroke-width="1" stroke-linejoin="round" stroke-linecap="butt"/>
<rect x="137.8" y="183.8" width="4.4" height="5.0" fill="#fff" stroke="#1d1d1b" stroke-width="1.6" rx="0"/>
<rect x="137.8" y="233.6" width="4.4" height="5.0" fill="#fff" stroke="#1d1d1b" stroke-width="1.6" rx="0"/>
<rect x="110.4" y="359.8" width="4.4" height="5.0" fill="#fff" stroke="#1d1d1b" stroke-width="1.6" rx="0"/>
<rect x="110.4" y="410.2" width="4.4" height="5.0" fill="#fff" stroke="#1d1d1b" stroke-width="1.6" rx="0"/>
<rect x="104.7" y="132.5" width="10.3" height="8.5" fill="#1d1d1b" stroke="none" stroke-width="0" rx="0.8"/>
<rect x="100.2" y="140" width="30.2" height="9.4" fill="#1d1d1b" stroke="none" stroke-width="0" rx="2.4"/>
<rect x="101.3" y="147" width="27.5" height="31" fill="#1d1d1b" stroke="none" stroke-width="0" rx="2"/>
<rect x="104.3" y="150.8" width="3.5" height="19.4" fill="#fff" stroke="none" stroke-width="0" rx="0"/>
<rect x="110.2" y="153.6" width="10.0" height="20.0" fill="#fff" stroke="none" stroke-width="0" rx="0"/>
<rect x="122.6" y="150.8" width="3.2" height="19.4" fill="#fff" stroke="none" stroke-width="0" rx="0"/>
<rect x="109" y="148.8" width="2.2" height="3.6" fill="#fff" stroke="none" stroke-width="0" rx="0"/>
<rect x="118.8" y="148.8" width="2.2" height="3.6" fill="#fff" stroke="none" stroke-width="0" rx="0"/>
<rect x="106" y="178" width="18.2" height="8.6" fill="#fff" stroke="#1d1d1b" stroke-width="2.4" rx="0"/>
<rect x="101.3" y="187" width="34.7" height="44.2" fill="#1d1d1b" stroke="none" stroke-width="0" rx="1.2"/>
<rect x="94.89999999999999" y="190.6" width="9.4" height="39.4" fill="#1d1d1b" stroke="none" stroke-width="0" rx="2.4"/>
<polygon points="94.49999999999999,201.83333333333331 97.49999999999999,203.73333333333332 94.49999999999999,205.63333333333333" fill="#fff" stroke="none" stroke-width="0" stroke-linejoin="miter"/>
<polygon points="94.49999999999999,214.96666666666664 97.49999999999999,216.86666666666665 94.49999999999999,218.76666666666665" fill="#fff" stroke="none" stroke-width="0" stroke-linejoin="miter"/>
<line x1="102.5" y1="195.6" x2="99.5" y2="201" stroke="#fff" stroke-width="1.9" stroke-linecap="butt"/>
<line x1="102.5" y1="226.2" x2="99.5" y2="220.79999999999998" stroke="#fff" stroke-width="1.9" stroke-linecap="butt"/>
<line x1="127.6" y1="195.2" x2="131.6" y2="202" stroke="#fff" stroke-width="1.7" stroke-linecap="butt"/>
<line x1="127.6" y1="226.6" x2="131.6" y2="219.79999999999998" stroke="#fff" stroke-width="1.7" stroke-linecap="butt"/>
<path d="M109.6,201.4 Q115,198.6 120.4,201.4" fill="none" stroke="#fff" stroke-width="1.5" stroke-linejoin="round" stroke-linecap="butt"/>
<path d="M110,221.6 Q115,224 120,221.6" fill="none" stroke="#fff" stroke-width="1.7" stroke-linejoin="round" stroke-linecap="butt"/>
<rect x="108.9" y="203.6" width="12.2" height="6.4" fill="#fff" stroke="none" stroke-width="0" rx="1.6"/>
<rect x="110.4" y="215.1" width="9.3" height="3.7" fill="#fff" stroke="none" stroke-width="0" rx="1"/>
<path d="M145.2,145.6 L145.2,163 L135.8,176 L135.8,248.6 L145.2,261.6 L145.2,326 L141,331.6 L112.4,342.6 L108.2,348 L108.2,425" fill="none" stroke="#1d1d1b" stroke-width="4.7" stroke-linejoin="round" stroke-linecap="round"/>
<path d="M145.2,145.6 L145.2,163 L135.8,176 L135.8,248.6 L145.2,261.6 L145.2,326 L141,331.6 L112.4,342.6 L108.2,348 L108.2,425" fill="none" stroke="#fff" stroke-width="0.8" stroke-linejoin="round" stroke-linecap="butt" stroke-opacity="0.6"/>
<rect x="104.3" y="230" width="23.3" height="8" fill="#1d1d1b" stroke="none" stroke-width="0" rx="0"/>
<rect x="108.9" y="233.4" width="14.6" height="2.2" fill="#fff" stroke="none" stroke-width="0" rx="0"/>
<rect x="101.3" y="236.6" width="27.4" height="21.6" fill="#1d1d1b" stroke="none" stroke-width="0" rx="5.4"/>
<rect x="108" y="258" width="14.4" height="2" fill="#1d1d1b" stroke="none" stroke-width="0" rx="1"/>
<rect x="106.6" y="240" width="18.0" height="1" fill="#fff" stroke="none" stroke-width="0" rx="0"/>
<rect x="106.6" y="243.6" width="6.4" height="9.4" fill="#fff" stroke="none" stroke-width="0" rx="0"/>
<rect x="116" y="243.6" width="7" height="9.4" fill="#fff" stroke="none" stroke-width="0" rx="0"/>
<rect x="77.6" y="308.4" width="10.4" height="9.6" fill="#1d1d1b" stroke="none" stroke-width="0" rx="0.8"/>
<rect x="73" y="317" width="30.6" height="10.6" fill="#1d1d1b" stroke="none" stroke-width="0" rx="2.4"/>
<polygon points="78.4,327 98.4,327 102.8,338.5 102.8,360 73.7,360 73.7,338.5" fill="#1d1d1b" stroke="none" stroke-width="0" stroke-linejoin="miter"/>
<path d="M79,330.2 Q88.4,327.6 97.8,330.2" fill="none" stroke="#fff" stroke-width="1.0" stroke-linejoin="round" stroke-linecap="butt"/>
<line x1="83" y1="340" x2="83" y2="356" stroke="#9c9c9a" stroke-width="1.0" stroke-linecap="butt"/>
<line x1="88.4" y1="340" x2="88.4" y2="356" stroke="#9c9c9a" stroke-width="1.0" stroke-linecap="butt"/>
<line x1="93.8" y1="340" x2="93.8" y2="356" stroke="#9c9c9a" stroke-width="1.0" stroke-linecap="butt"/>
<line x1="85" y1="338" x2="86.4" y2="333.6" stroke="#9c9c9a" stroke-width="0.8" stroke-linecap="butt"/>
<line x1="88.4" y1="338" x2="88.4" y2="333.6" stroke="#9c9c9a" stroke-width="0.8" stroke-linecap="butt"/>
<line x1="91.8" y1="338" x2="90.4" y2="333.6" stroke="#9c9c9a" stroke-width="0.8" stroke-linecap="butt"/>
<rect x="73.7" y="358" width="29.1" height="10" fill="#1d1d1b" stroke="none" stroke-width="0" rx="0"/>
<rect x="76.6" y="360.2" width="8.2" height="6.2" fill="#fff" stroke="none" stroke-width="0" rx="0"/>
<rect x="90.6" y="360.2" width="8.7" height="6.2" fill="#fff" stroke="none" stroke-width="0" rx="0"/>
<line x1="87.7" y1="360.2" x2="87.7" y2="366.4" stroke="#bbb" stroke-width="0.8" stroke-linecap="butt"/>
<rect x="67.3" y="367" width="39.7" height="40.8" fill="#1d1d1b" stroke="none" stroke-width="0" rx="1.2"/>
<rect x="64.7" y="370.6" width="5.6" height="36.0" fill="#1d1d1b" stroke="none" stroke-width="0" rx="2.4"/>
<polygon points="64.3,380.70000000000005 66.13000000000001,382.6 64.3,384.5" fill="#fff" stroke="none" stroke-width="0" stroke-linejoin="miter"/>
<polygon points="64.3,392.70000000000005 66.13000000000001,394.6 64.3,396.5" fill="#fff" stroke="none" stroke-width="0" stroke-linejoin="miter"/>
<line x1="74.1" y1="375.6" x2="71.1" y2="381" stroke="#fff" stroke-width="1.9" stroke-linecap="butt"/>
<line x1="74.1" y1="402.8" x2="71.1" y2="397.40000000000003" stroke="#fff" stroke-width="1.9" stroke-linecap="butt"/>
<line x1="101.1" y1="375.2" x2="105.1" y2="382" stroke="#fff" stroke-width="1.7" stroke-linecap="butt"/>
<line x1="101.1" y1="403.2" x2="105.1" y2="396.40000000000003" stroke="#fff" stroke-width="1.7" stroke-linecap="butt"/>
<path d="M83.1,379.79999999999995 Q88.5,377.0 93.9,379.79999999999995" fill="none" stroke="#fff" stroke-width="1.5" stroke-linejoin="round" stroke-linecap="butt"/>
<path d="M83.5,400.0 Q88.5,402.4 93.5,400.0" fill="none" stroke="#fff" stroke-width="1.7" stroke-linejoin="round" stroke-linecap="butt"/>
<rect x="79.9" y="382.2" width="17.0" height="7.6" fill="#fff" stroke="none" stroke-width="0" rx="2.4"/>
<rect x="85.1" y="382.2" width="1.8" height="7.6" fill="#1d1d1b" stroke="none" stroke-width="0" rx="0"/>
<rect x="90.7" y="382.2" width="2.2" height="7.6" fill="#1d1d1b" stroke="none" stroke-width="0" rx="0"/>
<rect x="84.1" y="393.79999999999995" width="9.0" height="2.2" fill="#fff" stroke="none" stroke-width="0" rx="1"/>
<rect x="77.7" y="406" width="21.1" height="8" fill="#1d1d1b" stroke="none" stroke-width="0" rx="0"/>
<rect x="74.2" y="411.4" width="26.9" height="13.6" fill="#1d1d1b" stroke="none" stroke-width="0" rx="4"/>
<path d="M74.2,420 L101.1,420 L101.1,424 Q100,434.8 87.6,434.8 Q75.3,434.8 74.2,424 Z" fill="#1d1d1b" stroke="none" stroke-width="0" stroke-linejoin="round" stroke-linecap="butt"/>
<rect x="80" y="412.5" width="16.6" height="1.1" fill="#fff" stroke="none" stroke-width="0" rx="0"/>
<rect x="78.3" y="416.6" width="3.0" height="8.7" fill="#fff" stroke="none" stroke-width="0" rx="0"/>
<rect x="84.2" y="416.6" width="8.1" height="8.7" fill="#fff" stroke="none" stroke-width="0" rx="0"/>
<rect x="95.2" y="416.6" width="3.0" height="8.7" fill="#fff" stroke="none" stroke-width="0" rx="0"/>
<line x1="234.7" y1="57" x2="234.7" y2="96" stroke="#1d1d1b" stroke-width="2.7" stroke-linecap="butt"/>
<polygon points="234.7,124.3 227.0,94.3 242.39999999999998,94.3" fill="#1d1d1b" stroke="none" stroke-width="0" stroke-linejoin="miter"/>
<line x1="274.7" y1="57" x2="274.7" y2="89" stroke="#1d1d1b" stroke-width="2.7" stroke-linecap="butt"/>
<polygon points="274.7,117.0 266.9,87.0 282.5,87.0" fill="#1d1d1b" stroke="none" stroke-width="0" stroke-linejoin="miter"/>
<line x1="332.8" y1="57" x2="332.8" y2="146" stroke="#1d1d1b" stroke-width="2.7" stroke-linecap="butt"/>
<polygon points="332.8,173.3 325.05,143.5 340.55,143.5" fill="#1d1d1b" stroke="none" stroke-width="0" stroke-linejoin="miter"/>
<line x1="396.6" y1="57" x2="396.6" y2="97" stroke="#1d1d1b" stroke-width="2.7" stroke-linecap="butt"/>
<polygon points="396.6,122.7 388.90000000000003,95.2 404.3,95.2" fill="#1d1d1b" stroke="none" stroke-width="0" stroke-linejoin="miter"/>
<line x1="183.3" y1="198.7" x2="198" y2="198.7" stroke="#1d1d1b" stroke-width="2.7" stroke-linecap="butt"/>
<polygon points="225.6,198.7 196.2,191.0 196.2,206.39999999999998" fill="#1d1d1b" stroke="none" stroke-width="0" stroke-linejoin="miter"/>
<polygon points="311.5,250.39999999999998 305.6,272.2 317.4,272.2" fill="#1d1d1b" stroke="none" stroke-width="0" stroke-linejoin="miter"/>
<polygon points="391.5,324.0 384.5,298.2 398.5,298.2" fill="#1d1d1b" stroke="none" stroke-width="0" stroke-linejoin="miter"/>
<polygon points="267.4,431.7 259.4,460.6 275.4,460.6" fill="#1d1d1b" stroke="none" stroke-width="0" stroke-linejoin="miter"/>
<line x1="267.4" y1="458" x2="267.4" y2="466.4" stroke="#1d1d1b" stroke-width="2.7" stroke-linecap="butt"/>
<circle cx="229.9" cy="35.4" r="22.5" fill="#fff" stroke="#1d1d1b" stroke-width="1.6"/>
<text x="229.5" y="48.3" font-size="38.3" text-anchor="middle" textLength="18.5" lengthAdjust="spacingAndGlyphs" style="stroke-width:0.5px">2</text>
<circle cx="278.1" cy="35.4" r="22.5" fill="#fff" stroke="#1d1d1b" stroke-width="1.6"/>
<text x="277.8" y="48.3" font-size="38.3" text-anchor="middle" textLength="17.9" lengthAdjust="spacingAndGlyphs" style="stroke-width:0.5px">5</text>
<circle cx="333.3" cy="35.3" r="22.5" fill="#fff" stroke="#1d1d1b" stroke-width="1.6"/>
<text x="334.2" y="47.5" font-size="38.3" text-anchor="middle" textLength="19.5" lengthAdjust="spacingAndGlyphs" style="stroke-width:0.5px">1</text>
<g><rect x="326.76" y="43.94" width="6.50" height="4.76" fill="#fff"/><rect x="336.36" y="43.94" width="6.32" height="4.76" fill="#fff"/></g>
<circle cx="398.4" cy="35.3" r="22.5" fill="#fff" stroke="#1d1d1b" stroke-width="1.6"/>
<text x="399.2" y="48.199999999999996" font-size="38.3" text-anchor="middle" textLength="20.6" lengthAdjust="spacingAndGlyphs" style="stroke-width:0.5px">3</text>
<circle cx="188.8" cy="238.2" r="24.9" fill="#fff" stroke="#1d1d1b" stroke-width="1.6"/>
<text x="188.8" y="250.6" font-size="38.3" text-anchor="middle" textLength="19.8" lengthAdjust="spacingAndGlyphs" style="stroke-width:0.5px">7</text>
<circle cx="312.1" cy="294" r="22.8" fill="#fff" stroke="#1d1d1b" stroke-width="1.6"/>
<text x="312.1" y="306.4" font-size="40" text-anchor="middle" textLength="23.7" lengthAdjust="spacingAndGlyphs" style="stroke-width:0.5px">8</text>
<circle cx="389.7" cy="277.2" r="22.6" fill="#fff" stroke="#1d1d1b" stroke-width="1.6"/>
<text x="389.7" y="290.0" font-size="37.6" text-anchor="middle" textLength="22" lengthAdjust="spacingAndGlyphs" style="stroke-width:0.5px">4</text>
<circle cx="271.6" cy="495.7" r="23.4" fill="#fff" stroke="#1d1d1b" stroke-width="1.6"/>
<text x="271.6" y="507.8" font-size="38.3" text-anchor="middle" textLength="21.7" lengthAdjust="spacingAndGlyphs" style="stroke-width:0.5px">6</text>
</g>
</svg>
</body>
</html>
